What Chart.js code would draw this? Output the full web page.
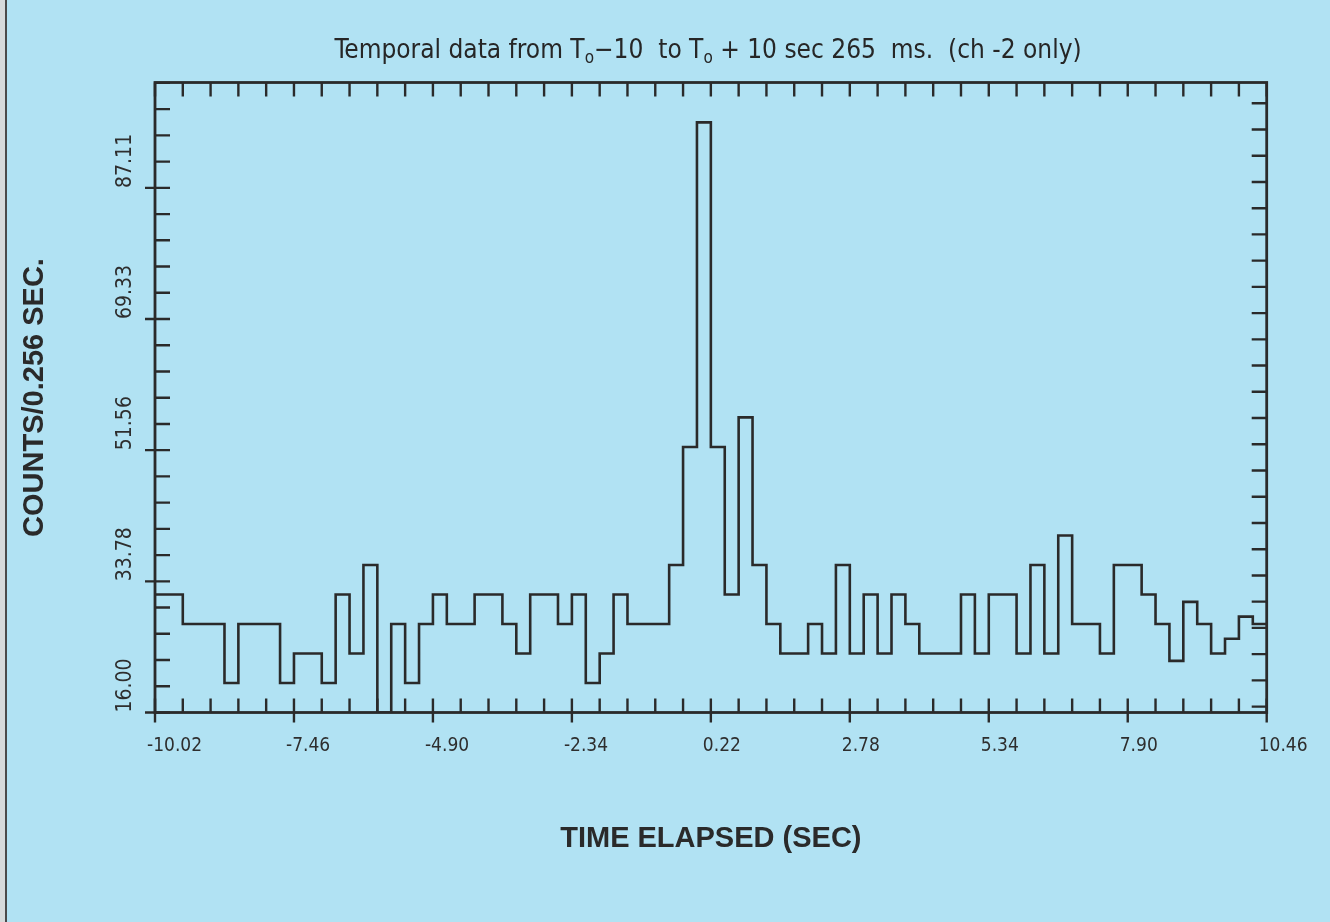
<!DOCTYPE html>
<html>
<head>
<meta charset="utf-8">
<script src="https://cdn.jsdelivr.net/npm/chart.js@4.4.1/dist/chart.umd.min.js"></script>
<style>
  html, body { margin: 0; padding: 0; background: #dcdfe0; overflow: hidden; }
  #wrap { position: absolute; left: 0; top: 0; width: 1330px; height: 922px; }
  canvas { display: block; }
</style>
</head>
<body>
<div id="wrap"><canvas id="c" width="1330" height="922"></canvas></div>
<script>
// ---------------- data ----------------
const titleParts = [
  { text: 'Temporal data from T' }, { text: 'o', sub: true },
  { text: '\u221210  to T' }, { text: 'o', sub: true },
  { text: ' + 10 sec 265  ms.  (ch -2 only)' }
];
const xAxisTitle = 'TIME ELAPSED (SEC)';
const yAxisTitle = 'COUNTS/0.256 SEC.';

const xTickValues = [-10.02, -7.46, -4.90, -2.34, 0.22, 2.78, 5.34, 7.90, 10.46];
const xTickLabels = ['-10.02', '-7.46', '-4.90', '-2.34', '0.22', '2.78', '5.34', '7.90', '10.46'];
const yTickValues = [16.00, 33.78, 51.56, 69.33, 87.11];
const yTickLabels = ['16.00', '33.78', '51.56', '69.33', '87.11'];

const binStart = -10.02;   // s
const binWidth = 0.256;    // s
// counts per 0.256 s bin (80 bins)
const counts = [
  32, 32, 28, 28, 28, 20, 28, 28, 28, 20,
  24, 24, 20, 32, 24, 36, 16, 28, 20, 28,
  32, 28, 28, 32, 32, 28, 24, 32, 32, 28,
  32, 20, 24, 32, 28, 28, 28, 36, 52, 96,
  52, 32, 56, 36, 28, 24, 24, 28, 24, 36,
  24, 32, 24, 32, 28, 24, 24, 24, 32, 24,
  32, 32, 24, 36, 24, 40, 28, 28, 24, 36,
  36, 32, 28, 23, 31, 28, 24, 26, 29, 28
];

const xMin = -10.02, xMax = 10.46;
const yMin = 16, yMax = 101.4;
const xMinorStep = 0.512;
const yMinorStep = 3.556;
const yRightOffset = 0.8;

// ---------------- build ----------------
const points = counts.map((c, i) => ({ x: binStart + i * binWidth, y: c }));
points.push({ x: binStart + counts.length * binWidth, y: counts[counts.length - 1] });

const INK = '#2a2a2a';
const NARROW = '"Liberation Sans Narrow", "DejaVu Sans Condensed", "Arial Narrow", sans-serif';
const BOLD = '"Liberation Sans", Arial, sans-serif';

const bgPlugin = {
  id: 'bg',
  beforeDraw(chart) {
    const ctx = chart.ctx;
    ctx.save();
    ctx.fillStyle = '#b1e2f3';
    ctx.fillRect(0, 0, chart.width, chart.height);
    ctx.fillStyle = '#d6dadb';
    ctx.fillRect(0, 0, 5, chart.height);
    ctx.fillStyle = '#4a4a4a';
    ctx.fillRect(5, 0, 2, chart.height);
    ctx.restore();
  }
};

const framePlugin = {
  id: 'frame',
  beforeDatasetsDraw(chart) {
    const { ctx, chartArea: a, scales: { x, y } } = chart;
    ctx.save();
    ctx.strokeStyle = INK;
    ctx.lineWidth = 2.8;
    ctx.strokeRect(a.left, a.top, a.right - a.left, a.bottom - a.top);
    ctx.lineWidth = 2.4;
    ctx.beginPath();
    const nx = Math.round((xMax - xMin) / xMinorStep);
    for (let k = 0; k <= nx; k++) {
      const px = x.getPixelForValue(xMin + k * xMinorStep);
      const major = k % 5 === 0;
      ctx.moveTo(px, a.bottom + (major ? 10 : 0));
      ctx.lineTo(px, a.bottom - 14);
      ctx.moveTo(px, a.top);
      ctx.lineTo(px, a.top + 14);
    }
    for (let k = 0; ; k++) {
      const v = yMin + k * yMinorStep;
      if (v > yMax) break;
      const py = y.getPixelForValue(v);
      const major = k % 5 === 0;
      ctx.moveTo(a.left - (major ? 10 : 0), py);
      ctx.lineTo(a.left + 15, py);
    }
    for (let k = 0; ; k++) {
      const v = yMin + yRightOffset + k * yMinorStep;
      if (v > yMax - 0.3) break;
      const py = y.getPixelForValue(v);
      ctx.moveTo(a.right, py);
      ctx.lineTo(a.right - 15, py);
    }
    ctx.stroke();
    ctx.restore();
  },
  afterDraw(chart) {
    const { ctx, chartArea: a, scales: { y } } = chart;
    ctx.save();
    // y tick labels (rotated, reading upward, starting at the tick)
    ctx.fillStyle = '#2e2e2e';
    ctx.font = '21px ' + NARROW;
    ctx.textAlign = 'left';
    ctx.textBaseline = 'middle';
    yTickValues.forEach((v, i) => {
      const py = y.getPixelForValue(v);
      ctx.save();
      ctx.translate(126, py);
      ctx.rotate(-Math.PI / 2);
      ctx.fillText(yTickLabels[i], 0, 0);
      ctx.restore();
    });
    // title with subscripts
    const big = '26px ' + NARROW, small = '17px ' + NARROW;
    let total = 0;
    titleParts.forEach(p => { ctx.font = p.sub ? small : big; total += ctx.measureText(p.text).width; });
    let cx = 708 - total / 2;
    ctx.fillStyle = '#262626';
    ctx.textAlign = 'left';
    ctx.textBaseline = 'alphabetic';
    titleParts.forEach(p => {
      ctx.font = p.sub ? small : big;
      ctx.fillText(p.text, cx, p.sub ? 63 : 58);
      cx += ctx.measureText(p.text).width;
    });
    ctx.restore();
  }
};

new Chart(document.getElementById('c'), {
  type: 'line',
  data: {
    datasets: [{
      data: points,
      stepped: 'before',
      borderColor: INK,
      borderWidth: 2.6,
      pointRadius: 0,
      fill: false,
      tension: 0
    }]
  },
  options: {
    responsive: false,
    animation: false,
    devicePixelRatio: 1,
    layout: { padding: { left: 0, right: 63.3, top: 82.5, bottom: 59.5 } },
    plugins: { legend: { display: false }, tooltip: { enabled: false }, title: { display: false } },
    scales: {
      x: {
        type: 'linear', min: xMin, max: xMax,
        afterBuildTicks: s => { s.ticks = xTickValues.map(v => ({ value: v })); },
        afterFit: s => { s.height = 150; s.paddingLeft = 0; s.paddingRight = 0; },
        ticks: {
          callback: (v, i) => xTickLabels[i],
          align: 'start', labelOffset: -8, padding: 22, autoSkip: false, maxRotation: 0, minRotation: 0,
          color: '#2e2e2e', font: { family: NARROW, size: 19 }
        },
        grid: { display: false, drawTicks: false },
        border: { display: false },
        title: {
          display: true, text: xAxisTitle, color: '#2a2a2a',
          font: { family: BOLD, size: 29, weight: 'bold' },
          padding: { top: 0, bottom: 6 }
        }
      },
      y: {
        type: 'linear', min: yMin, max: yMax,
        afterFit: s => { s.width = 155; },
        ticks: { display: false },
        grid: { display: false, drawTicks: false },
        border: { display: false },
        title: {
          display: true, text: yAxisTitle, color: '#2a2a2a',
          font: { family: BOLD, size: 29, weight: 'bold' },
          padding: { top: 18, bottom: 0 }
        }
      }
    }
  },
  plugins: [bgPlugin, framePlugin]
});
</script>
</body>
</html>
